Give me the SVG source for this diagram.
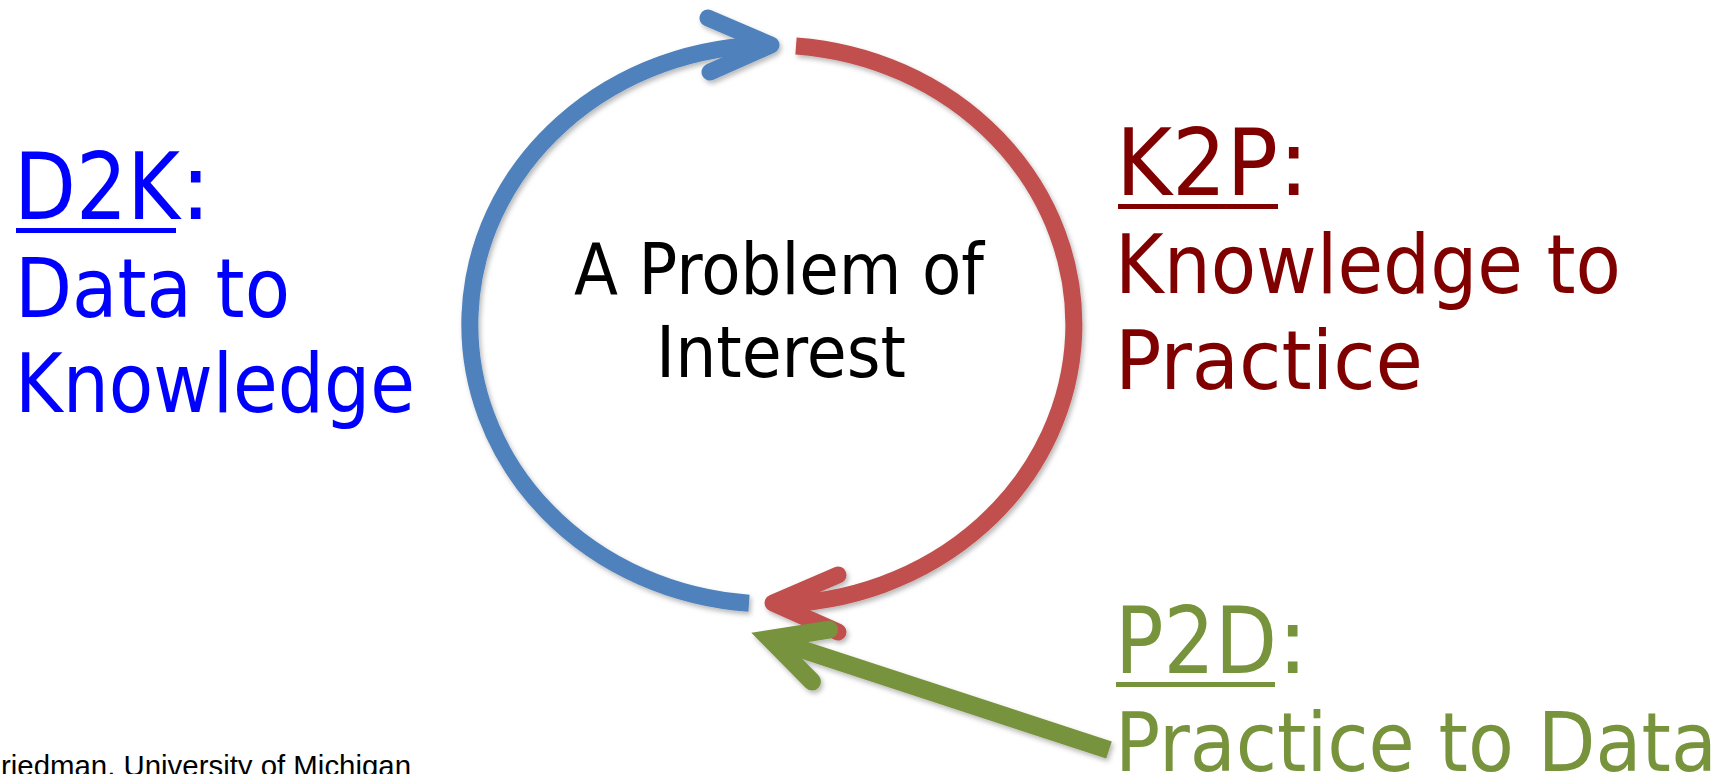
<svg xmlns="http://www.w3.org/2000/svg" width="1722" height="774" viewBox="0 0 1722 774">
  <style>
    .big { font-family: "DejaVu Sans", Tahoma, Verdana, sans-serif; }
    .head { font-size: 93px; }
    .body { font-size: 82px; }
    .blue { fill: #0000FF; }
    .maroon { fill: #800000; }
    .olive { fill: #77933C; }
    .center { font-size: 71px; fill: #000000; text-anchor: middle; }
    .foot { font-family: "Liberation Sans", Arial, sans-serif; font-size: 29px; fill: #000000; }
    .arc { fill: none; stroke-width: 17; stroke-linecap: butt; }
    .head-tip { fill: none; stroke-width: 17; stroke-linecap: round; stroke-linejoin: round; }
  </style>
  <defs>
    <filter id="soft-shadow" x="-10%" y="-10%" width="120%" height="120%">
      <feDropShadow dx="2" dy="3" stdDeviation="2.5" flood-color="#000000" flood-opacity="0.28"/>
    </filter>
  </defs>

  <rect x="0" y="0" width="1722" height="774" fill="#FFFFFF"/>

  <!-- cycle arrows and the incoming practice arrow -->
  <g id="connectors" filter="url(#soft-shadow)">
    <!-- data to knowledge: left half, bottom to top -->
    <path class="arc" stroke="#4F81BD" d="M 749 603.2 A 302 279.5 0 0 1 771 45"/>
    <polyline class="head-tip" stroke="#4F81BD" points="708,18 771,45 710,72"/>
    <!-- knowledge to practice: right half, top to bottom -->
    <path class="arc" stroke="#C0504D" d="M 796 45.9 A 302 279.5 0 0 1 774 604"/>
    <polyline class="head-tip" stroke="#C0504D" points="838,575 773,603 838,632"/>
    <!-- practice to data -->
    <line x1="770" y1="639" x2="1109" y2="750" stroke="#77933C" stroke-width="18" stroke-linecap="butt"/>
    <polyline points="829,629.6 770,639 812,681.5" fill="none" stroke="#77933C" stroke-width="18" stroke-linecap="round" stroke-linejoin="miter" stroke-miterlimit="10"/>
  </g>

  <g id="problem">
    <text class="big center" x="779" y="294" textLength="410" lengthAdjust="spacingAndGlyphs">A Problem of</text>
    <text class="big center" x="781" y="377" textLength="250" lengthAdjust="spacingAndGlyphs">Interest</text>
  </g>

  <g id="d2k">
    <text class="big head blue" y="219"><tspan x="14" textLength="166" lengthAdjust="spacingAndGlyphs">D2K</tspan><tspan x="180">:</tspan></text>
    <rect class="blue" x="16" y="228" width="160" height="5"/>
    <text class="big body blue" x="15" y="317" textLength="275" lengthAdjust="spacingAndGlyphs">Data to</text>
    <text class="big body blue" x="15" y="412" textLength="400" lengthAdjust="spacingAndGlyphs">Knowledge</text>
  </g>

  <g id="k2p">
    <text class="big head maroon" y="195"><tspan x="1116" textLength="162" lengthAdjust="spacingAndGlyphs">K2P</tspan><tspan x="1278">:</tspan></text>
    <rect class="maroon" x="1118" y="204" width="160" height="5"/>
    <text class="big body maroon" x="1115" y="293" textLength="506" lengthAdjust="spacingAndGlyphs">Knowledge to</text>
    <text class="big body maroon" x="1115" y="389" textLength="308" lengthAdjust="spacingAndGlyphs">Practice</text>
  </g>

  <g id="p2d">
    <text class="big head olive" y="673"><tspan x="1115" textLength="162" lengthAdjust="spacingAndGlyphs">P2D</tspan><tspan x="1277">:</tspan></text>
    <rect class="olive" x="1116" y="682" width="159" height="5"/>
    <text class="big body olive" x="1115" y="771" textLength="602" lengthAdjust="spacingAndGlyphs">Practice to Data</text>
  </g>

  <g id="footer">
    <text class="foot" x="1" y="776" textLength="410" lengthAdjust="spacingAndGlyphs">riedman, University of Michigan</text>
  </g>
</svg>
